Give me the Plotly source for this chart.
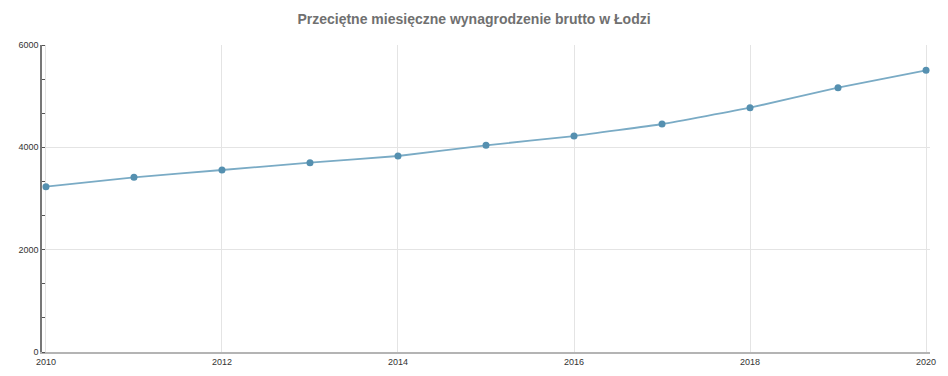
import plotly.graph_objects as go

years = [2010, 2011, 2012, 2013, 2014, 2015, 2016, 2017, 2018, 2019, 2020]
wages = [3231, 3414, 3557, 3700, 3831, 4040, 4221, 4456, 4775, 5166, 5505]
x_ticks = [2010, 2012, 2014, 2016, 2018, 2020]
y_ticks = [0, 2000, 4000, 6000]
title = "Przeciętne miesięczne wynagrodzenie brutto w Łodzi"

fig = go.Figure()
fig.add_trace(go.Scatter(
    x=years, y=wages, mode="lines+markers",
    line=dict(color="#7aabc5", width=1.8, shape="spline", smoothing=0.4),
    marker=dict(color="#5590b0", size=7),
    hoverinfo="x+y", showlegend=False,
))

fig.update_layout(
    width=948, height=376,
    margin=dict(l=42, r=18, t=45, b=24, autoexpand=False),
    paper_bgcolor="white", plot_bgcolor="white",
    font=dict(family="Liberation Sans, Arial, sans-serif", size=9, color="#333"),
    title=dict(text="<b>" + title + "</b>", x=0.5, xanchor="center", y=0.95, yanchor="middle",
               font=dict(size=14, color="#707070")),
)
fig.update_xaxes(
    range=[2009.955, 2020.045], tickvals=x_ticks, ticktext=[str(v) for v in x_ticks],
    showgrid=True, gridcolor="#e4e4e4", gridwidth=1,
    showline=True, linecolor="#b4b4b4", linewidth=2,
    ticks="", zeroline=False, tickfont=dict(size=9, color="#333"),
)
fig.update_yaxes(
    range=[0, 6000], tickvals=y_ticks, ticktext=[str(v) for v in y_ticks],
    showgrid=True, gridcolor="#e4e4e4", gridwidth=1,
    showline=True, linecolor="#777", linewidth=1.5,
    ticks="", zeroline=False, tickfont=dict(size=9, color="#333"),
    minor=dict(dtick=2000 / 3, ticks="inside", ticklen=3, tickcolor="#555", tickwidth=1, showgrid=False),
)

fig.write_html("out.html", config={"displayModeBar": False},
               post_script="document.body.style.margin='0';")
